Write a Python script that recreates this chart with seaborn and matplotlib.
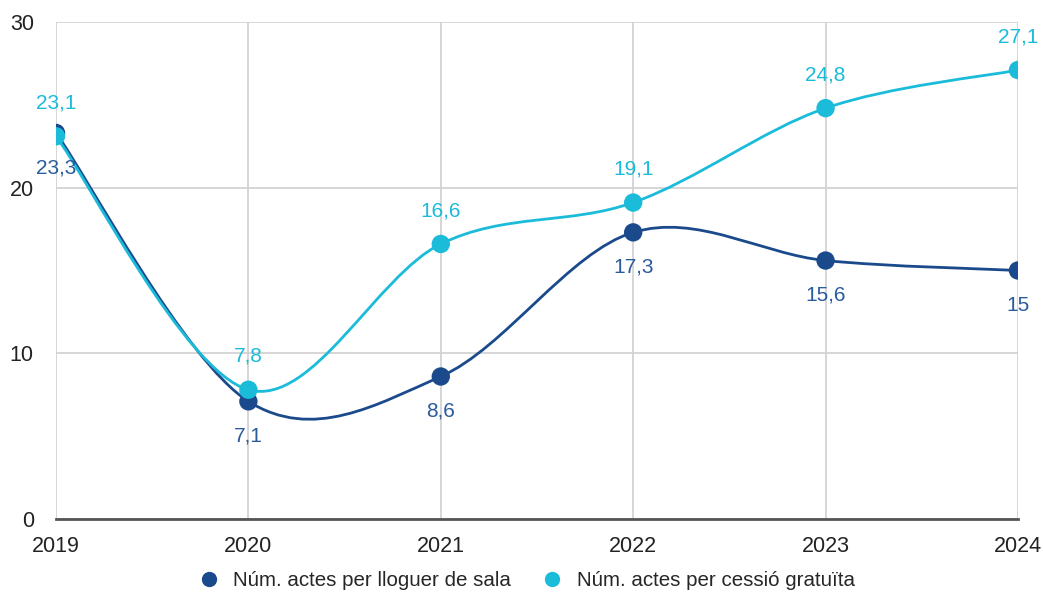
import numpy as np
import pandas as pd
import matplotlib
matplotlib.use("Agg")
import matplotlib.pyplot as plt
from matplotlib.path import Path
from matplotlib.patches import PathPatch
from matplotlib.lines import Line2D
import seaborn as sns

# Data
years = [2019, 2020, 2021, 2022, 2023, 2024]
lloguer = [23.3, 7.1, 8.6, 17.3, 15.6, 15.0]
cessio = [23.1, 7.8, 16.6, 19.1, 24.8, 27.1]
series_names = ["Núm. actes per lloguer de sala", "Núm. actes per cessió gratuïta"]

dark = "#1a4a8c"
cyan = "#1bbbda"
grid_c = "#d0d0d0"

sns.set_style("white")
plt.rcParams["font.family"] = ["Liberation Sans", "DejaVu Sans"]

df = pd.DataFrame({
    "year": years * 2,
    "value": lloguer + cessio,
    "serie": [series_names[0]] * 6 + [series_names[1]] * 6,
})

fig = plt.figure(figsize=(10.43, 5.94), dpi=100)
ax = fig.add_axes([0.0537, 0.1263, 0.9223, 0.8367])


def smooth_path(xs, ys):
    # Catmull-Rom style cubic bezier through the data points
    xs = np.asarray(xs, float)
    ys = np.asarray(ys, float)
    n = len(xs)
    verts = [(xs[0], ys[0])]
    codes = [Path.MOVETO]
    for i in range(n - 1):
        p0 = max(i - 1, 0)
        p3 = min(i + 2, n - 1)
        m1x = (xs[i + 1] - xs[p0]) / 2
        m1y = (ys[i + 1] - ys[p0]) / 2
        m2x = (xs[p3] - xs[i]) / 2
        m2y = (ys[p3] - ys[i]) / 2
        verts += [(xs[i] + m1x / 3, ys[i] + m1y / 3),
                  (xs[i + 1] - m2x / 3, ys[i + 1] - m2y / 3),
                  (xs[i + 1], ys[i + 1])]
        codes += [Path.CURVE4] * 3
    return Path(verts, codes)


for vals, col in [(lloguer, dark), (cessio, cyan)]:
    ax.add_patch(PathPatch(smooth_path(years, vals), fill=False,
                           edgecolor=col, lw=2.0, zorder=3, capstyle="round"))

sns.scatterplot(data=df, x="year", y="value", hue="serie",
                palette=[dark, cyan], s=175, edgecolor="none",
                legend=False, ax=ax, zorder=4)

# data labels
for x, v in zip(years, lloguer):
    ax.annotate(f"{v:g}".replace(".", ","), (x, v), xytext=(0, -25),
                textcoords="offset points", ha="center", va="center",
                fontsize=15, color="#2a5b9c", zorder=5)
for x, v in zip(years, cessio):
    ax.annotate(f"{v:g}".replace(".", ","), (x, v), xytext=(0, 24),
                textcoords="offset points", ha="center", va="center",
                fontsize=15, color=cyan, zorder=5)

ax.set_xlim(2019, 2024)
ax.set_ylim(0, 30)
ax.set_xticks(years)
ax.set_yticks([0, 10, 20, 30])
ax.grid(True, color=grid_c, lw=1.2, zorder=0)
ax.set_axisbelow(True)
for s in ["top", "right", "left"]:
    ax.spines[s].set_visible(False)
ax.spines["bottom"].set_color("#555555")
ax.spines["bottom"].set_linewidth(2)
ax.spines["bottom"].set_zorder(2)
ax.tick_params(axis="y", length=10, color=grid_c, width=1.2, pad=6, labelsize=15.5)
ax.tick_params(axis="x", length=0, pad=12, labelsize=15.5)
ax.set_xlabel("")
ax.set_ylabel("")
for lab in ax.get_xticklabels() + ax.get_yticklabels():
    lab.set_color("#222222")

handles = [Line2D([], [], marker="o", ls="none", color=c, markersize=10)
           for c in [dark, cyan]]
fig.legend(handles, series_names, loc="lower center", ncol=2, frameon=False,
           fontsize=14.8, bbox_to_anchor=(0.5, -0.025), handletextpad=0.2,
           columnspacing=1.0)

fig.savefig("out.png", dpi=100)
